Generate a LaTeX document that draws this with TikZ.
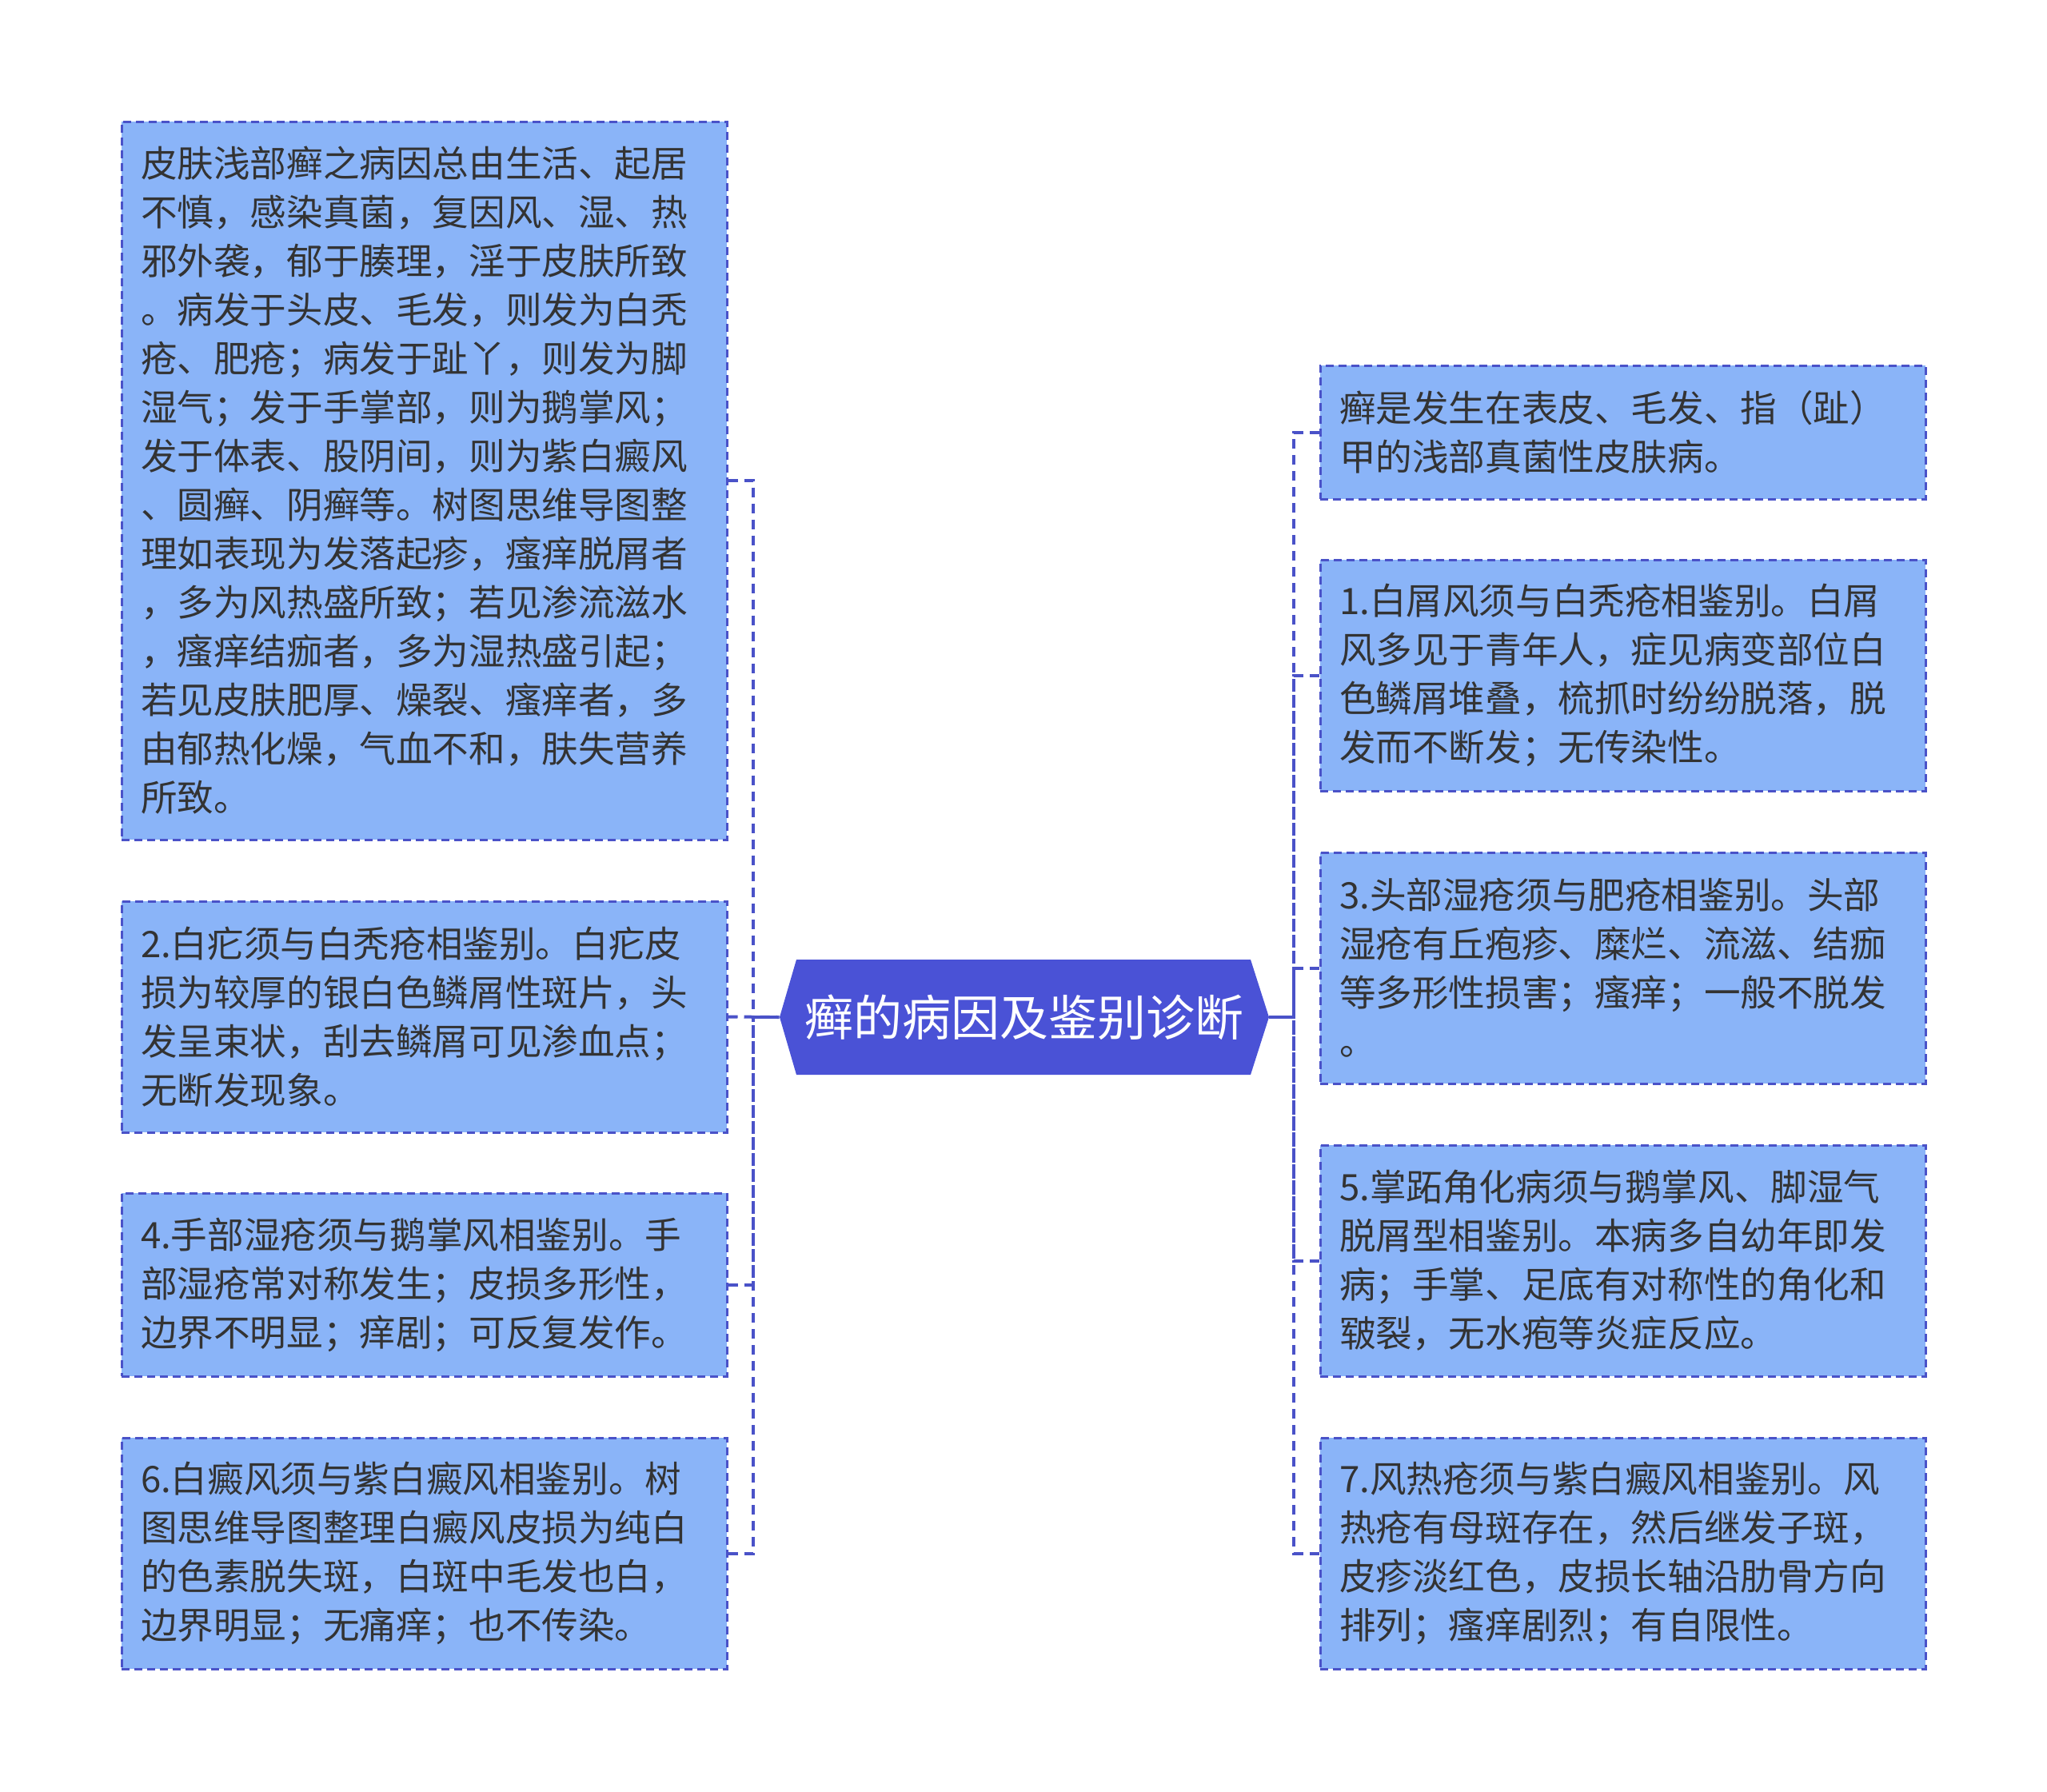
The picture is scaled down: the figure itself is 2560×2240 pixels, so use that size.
\documentclass[tikz,border=0pt]{standalone}
\usepackage{fontspec}
\setmainfont{Noto Sans CJK SC}
\definecolor{lineblue}{HTML}{4A52C8}
\definecolor{boxfill}{HTML}{8AB4F8}
\definecolor{centerfill}{HTML}{4A52D6}
\definecolor{textc}{HTML}{333333}
\begin{document}
\begin{tikzpicture}[x=0.5pt,y=-0.5pt,
  box/.style={draw=lineblue, fill=boxfill, dash pattern=on 5pt off 3pt, line width=1.5pt,
    text=textc, font=\fontsize{22.8pt}{30.5pt}\selectfont, align=left,
    text width=354.5pt, inner xsep=12pt, inner ysep=0pt},
  link/.style={draw=lineblue, line width=2pt, dash pattern=on 6pt off 4pt},
  centertext/.style={text=white, font=\fontsize{30.5pt}{36pt}\selectfont, inner sep=0pt,
    minimum width=306pt, minimum height=72pt}]
\useasboundingbox (0,0) rectangle (2560,2240);
\fill[centerfill] (975,1272) -- (996,1200) -- (1564,1200) -- (1587,1272) -- (1564,1344) -- (996,1344) -- cycle;
\node[centertext] (c) at (1281,1272) {癣的病因及鉴别诊断};

\node[box, minimum height=449pt] (L1) at (530.5,601) {皮肤浅部癣之病因总由生活、起居\\不慎，感染真菌，复因风、湿、热\\邪外袭，郁于腠理，淫于皮肤所致\\。病发于头皮、毛发，则发为白秃\\疮、肥疮；病发于趾丫，则发为脚\\湿气；发于手掌部，则为鹅掌风；\\发于体表、股阴间，则为紫白癜风\\、圆癣、阴癣等。树图思维导图整\\理如表现为发落起疹，瘙痒脱屑者\\，多为风热盛所致；若见渗流滋水\\，瘙痒结痂者，多为湿热盛引起；\\若见皮肤肥厚、燥裂、瘙痒者，多\\由郁热化燥，气血不和，肤失营养\\所致。};
\node[box, minimum height=144.5pt] (L2) at (530.5,1271.5) {2.白疕须与白秃疮相鉴别。白疕皮\\损为较厚的银白色鳞屑性斑片，头\\发呈束状，刮去鳞屑可见渗血点；\\无断发现象。};
\node[box, minimum height=114.5pt] (L3) at (530.5,1606.5) {4.手部湿疮须与鹅掌风相鉴别。手\\部湿疮常对称发生；皮损多形性，\\边界不明显；痒剧；可反复发作。};
\node[box, minimum height=144.5pt] (L4) at (530.5,1942.5) {6.白癜风须与紫白癜风相鉴别。树\\图思维导图整理白癜风皮损为纯白\\的色素脱失斑，白斑中毛发也白，\\边界明显；无痛痒；也不传染。};

\node[box, minimum height=83.5pt] (R1) at (2029.5,540.5) {癣是发生在表皮、毛发、指（趾）\\甲的浅部真菌性皮肤病。};
\node[box, minimum height=144.5pt] (R2) at (2029.5,844.5) {1.白屑风须与白秃疮相鉴别。白屑\\风多见于青年人，症见病变部位白\\色鳞屑堆叠，梳抓时纷纷脱落，脱\\发而不断发；无传染性。};
\node[box, minimum height=144.5pt] (R3) at (2029.5,1210.5) {3.头部湿疮须与肥疮相鉴别。头部\\湿疮有丘疱疹、糜烂、流滋、结痂\\等多形性损害；瘙痒；一般不脱发\\。};
\node[box, minimum height=144.5pt] (R4) at (2029.5,1576.5) {5.掌跖角化病须与鹅掌风、脚湿气\\脱屑型相鉴别。本病多自幼年即发\\病；手掌、足底有对称性的角化和\\皲裂，无水疱等炎症反应。};
\node[box, minimum height=144.5pt] (R5) at (2029.5,1942.5) {7.风热疮须与紫白癜风相鉴别。风\\热疮有母斑存在，然后继发子斑，\\皮疹淡红色，皮损长轴沿肋骨方向\\排列；瘙痒剧烈；有自限性。};

\coordinate (lt) at (942,1272);
\coordinate (rt) at (1618,1272);
\foreach \n in {L1,L3,L4} \draw[link] (\n.east) -| (lt) -- (c.west);
\draw[link] (L2.east) -- (c.west);
\foreach \n in {R1,R2,R3,R4,R5} \draw[link] (\n.west) -| (rt) -- (c.east);
\end{tikzpicture}
\end{document}
